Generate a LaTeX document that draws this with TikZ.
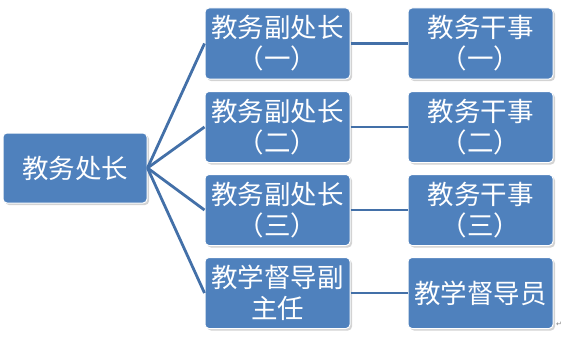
\documentclass[tikz,border=0pt]{standalone}
\usepackage{fontspec}
\newfontfamily\cjk{Noto Sans CJK SC}
\newfontfamily\symfont{DejaVu Sans}
\usetikzlibrary{shadows}
\definecolor{boxblue}{HTML}{4F81BD}
\definecolor{lineblue}{HTML}{4370A8}

\begin{document}
\begin{tikzpicture}[x=1pt, y=1pt,
    post/.style={rectangle, rounded corners=4pt, draw=white, line width=1pt,
      fill=boxblue, text=white, minimum width=145pt, minimum height=71pt,
      align=center, inner sep=0pt, font=\cjk\fontsize{26.5}{31}\selectfont,
      drop shadow={opacity=0.35, shadow xshift=2pt, shadow yshift=-2pt}},
    link/.style={lineblue, line width=2.8pt}]
  \useasboundingbox (0,0) rectangle (565,349);
  \node[post, minimum width=144pt, minimum height=70pt] (head) at (75,181) {教务处长};
  \foreach \i/\y/\n in {1/305.5/一, 2/222/二, 3/139/三} {
    \node[post] (V\i) at (277.5,\y) {教务副处长\\（\n）};
    \node[post] (S\i) at (480.5,\y) {教务干事\\（\n）};
  }
  \node[post] (V4) at (277.5,56) {教学督导副\\主任};
  \node[post] (S4) at (480.5,56) {教学督导员};
  \foreach \i in {1,...,4} {
    \draw[link] (head.east) -- (V\i.west);
    \draw[link] (V\i.east) -- (S\i.west);
  }
  \node[text=gray, font=\symfont\fontsize{7}{7}\selectfont] (mark) at (559,25) {↵};
\end{tikzpicture}
\end{document}
